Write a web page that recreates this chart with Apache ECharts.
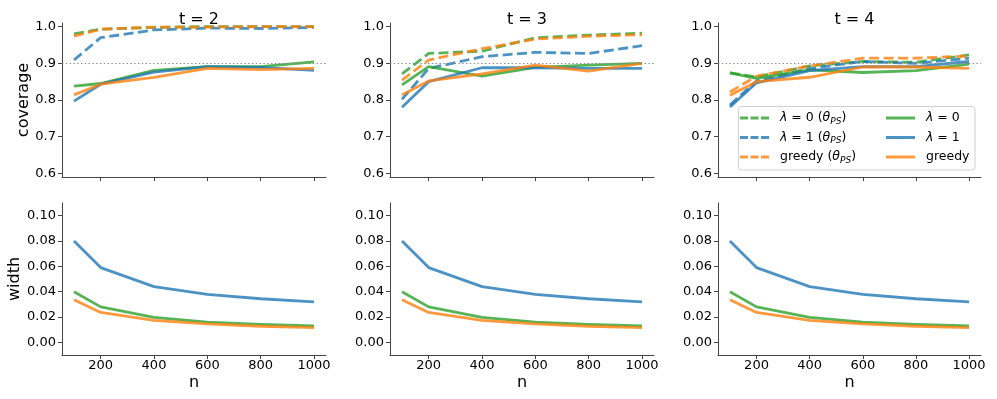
<!DOCTYPE html>
<html>
<head>
<meta charset="utf-8">
<script src="https://cdn.jsdelivr.net/npm/echarts@6/dist/echarts.min.js"></script>
<style>html,body{margin:0;padding:0;background:#fff}#c{width:997px;height:399px}</style>
</head>
<body>
<div id="c"></div>
<script>
// ---- data ----
const nValues = [100, 200, 400, 600, 800, 1000];
const panelTitles = ['t = 2', 't = 3', 't = 4'];
const coverageTicks = [0.6, 0.7, 0.8, 0.9, 1.0];
const widthTicks = [0.00, 0.02, 0.04, 0.06, 0.08, 0.10];
const xTicks = [200, 400, 600, 800, 1000];
const nominalCoverage = 0.9;

// t = 2
const cov2Lam0PS   = [0.980, 0.993, 0.998, 1.000, 1.000, 1.000];
const cov2Lam1PS   = [0.909, 0.970, 0.991, 0.996, 0.995, 0.998];
const cov2GreedyPS = [0.974, 0.993, 0.999, 0.999, 1.000, 1.000];
const cov2Lam0     = [0.838, 0.845, 0.881, 0.891, 0.891, 0.904];
const cov2Lam1     = [0.797, 0.843, 0.876, 0.891, 0.889, 0.881];
const cov2Greedy   = [0.814, 0.843, 0.862, 0.886, 0.883, 0.886];
// t = 3
const cov3Lam0PS   = [0.871, 0.927, 0.933, 0.970, 0.977, 0.982];
const cov3Lam1PS   = [0.802, 0.886, 0.918, 0.930, 0.927, 0.948];
const cov3GreedyPS = [0.854, 0.909, 0.940, 0.966, 0.974, 0.978];
const cov3Lam0     = [0.841, 0.891, 0.865, 0.889, 0.895, 0.900];
const cov3Lam1     = [0.780, 0.850, 0.888, 0.888, 0.886, 0.886];
const cov3Greedy   = [0.814, 0.852, 0.871, 0.895, 0.879, 0.900];
// t = 4
const cov4Lam0PS   = [0.874, 0.863, 0.893, 0.905, 0.903, 0.923];
const cov4Lam1PS   = [0.786, 0.852, 0.886, 0.905, 0.900, 0.914];
const cov4GreedyPS = [0.822, 0.865, 0.893, 0.914, 0.914, 0.920];
const cov4Lam0     = [0.874, 0.859, 0.882, 0.875, 0.880, 0.898];
const cov4Lam1     = [0.781, 0.847, 0.880, 0.891, 0.891, 0.905];
const cov4Greedy   = [0.813, 0.850, 0.862, 0.890, 0.890, 0.886];
// interval widths (same for every t)
const widthLam0   = [0.0400, 0.0280, 0.0197, 0.0160, 0.0142, 0.0129];
const widthLam1   = [0.0800, 0.0590, 0.0440, 0.0378, 0.0344, 0.0320];
const widthGreedy = [0.0336, 0.0236, 0.0173, 0.0145, 0.0127, 0.0116];

// ---- styling ----
const FONT = 'DejaVu Sans';
const GREEN = 'rgba(44,160,44,0.8)';
const BLUE = 'rgba(31,119,180,0.8)';
const ORANGE = 'rgba(255,127,14,0.8)';
const AX = '#444';
const LW = 2.8;
const DASH = [10, 4.5];

const coverageSets = [
  [cov2Lam0PS, cov2Lam1PS, cov2GreedyPS, cov2Lam0, cov2Lam1, cov2Greedy],
  [cov3Lam0PS, cov3Lam1PS, cov3GreedyPS, cov3Lam0, cov3Lam1, cov3Greedy],
  [cov4Lam0PS, cov4Lam1PS, cov4GreedyPS, cov4Lam0, cov4Lam1, cov4Greedy]
];
const widthSet = [widthLam0, widthLam1, widthGreedy];
const topNames = ['l0ps', 'l1ps', 'gps', 'l0', 'l1', 'g'];
const topColors = [GREEN, BLUE, ORANGE, GREEN, BLUE, ORANGE];
const bottomNames = ['l0', 'l1', 'g'];
const bottomColors = [GREEN, BLUE, ORANGE];

const lefts = [62, 390, 718];
const widths = [264, 264, 263];

const grids = [], xAxes = [], yAxes = [], series = [], titles = [];
lefts.forEach((l, p) => {
  grids.push({left: l, top: 23, width: widths[p], height: 154});
  titles.push({text: panelTitles[p], left: l + widths[p] / 2, top: 7, textAlign: 'center',
    textStyle: {fontFamily: FONT, fontSize: 16, fontWeight: 'normal', color: '#000'}});
});
lefts.forEach((l, p) => grids.push({left: l, top: 203, width: widths[p], height: 152}));

function xAxis(gi, labels) {
  return {
    type: 'value', gridIndex: gi, min: 55, max: 1045,
    splitLine: {show: false},
    axisLine: {show: true, onZero: false, lineStyle: {color: AX, width: 1}},
    axisTick: {show: true, length: 4, lineStyle: {color: AX}, customValues: xTicks},
    axisLabel: {show: labels, customValues: xTicks, margin: 4, color: '#000', fontFamily: FONT, fontSize: 13,
      formatter: v => String(Math.round(v))},
    name: labels ? 'n' : '', nameLocation: 'middle', nameGap: 20,
    nameTextStyle: {fontFamily: FONT, fontSize: 16, color: '#000'}
  };
}
function yAxis(gi, min, max, ticks, digits, name) {
  return {
    type: 'value', gridIndex: gi, min: min, max: max,
    splitLine: {show: false},
    axisLine: {show: true, onZero: false, lineStyle: {color: AX, width: 1}},
    axisTick: {show: true, length: 4, lineStyle: {color: AX}, customValues: ticks},
    axisLabel: {customValues: ticks, margin: 6, color: '#000', fontFamily: FONT, fontSize: 13,
      formatter: v => Number(v).toFixed(digits)},
    name: name, nameLocation: 'middle', nameGap: 28,
    nameTextStyle: {fontFamily: FONT, fontSize: 16, color: '#000'}
  };
}

for (let p = 0; p < 3; p++) {
  xAxes.push(xAxis(p, false));
  yAxes.push(yAxis(p, 0.59, 1.01, coverageTicks, 1, p === 0 ? 'coverage' : ''));
}
for (let p = 0; p < 3; p++) {
  xAxes.push(xAxis(3 + p, true));
  yAxes.push(yAxis(3 + p, -0.01, 0.11, widthTicks, 2, p === 0 ? 'width' : ''));
}

for (let p = 0; p < 3; p++) {
  coverageSets[p].forEach((arr, k) => {
    const s = {
      type: 'line', name: topNames[k], xAxisIndex: p, yAxisIndex: p,
      data: nValues.map((n, i) => [n, arr[i]]),
      symbol: 'none', color: topColors[k],
      lineStyle: {width: LW, color: topColors[k], type: k < 3 ? DASH : 'solid', cap: 'butt', join: 'round'},
      z: 2 + k * 0.01, silent: true
    };
    if (k === 0) {
      s.markLine = {silent: true, symbol: 'none', label: {show: false},
        lineStyle: {color: '#888', width: 1.2, type: [1.4, 2.4]},
        data: [{yAxis: nominalCoverage}], animation: false};
    }
    series.push(s);
  });
  widthSet.forEach((arr, k) => {
    series.push({
      type: 'line', name: bottomNames[k], xAxisIndex: 3 + p, yAxisIndex: 3 + p,
      data: nValues.map((n, i) => [n, arr[i]]),
      symbol: 'none', color: bottomColors[k],
      lineStyle: {width: LW, color: bottomColors[k], type: 'solid', join: 'round'},
      silent: true
    });
  });
}

const legendText = {
  l0ps: '{i|λ} = 0 ({i|θ}{s|PS})',
  l1ps: '{i|λ} = 1 ({i|θ}{s|PS})',
  gps: 'greedy ({i|θ}{s|PS})',
  l0: '{i|λ} = 0',
  l1: '{i|λ} = 1',
  g: 'greedy'
};
const dashIcon = 'path://M0,0h8v3h-8zM10.5,0h8v3h-8zM21,0h8v3h-8z';
const legendTextStyle = {
  fontFamily: FONT, fontSize: 12.5, color: '#000', lineHeight: 16, padding: [0, 0, 0, 6],
  rich: {
    i: {fontFamily: FONT, fontStyle: 'italic', fontSize: 12.5, lineHeight: 16, color: '#000'},
    s: {fontFamily: FONT, fontStyle: 'italic', fontSize: 9, lineHeight: 16, verticalAlign: 'bottom', color: '#000'}
  }
};
function legend(left, names, icon) {
  return {
    orient: 'vertical', left: left, top: 110, padding: 0, itemGap: 3.5,
    itemWidth: 29, itemHeight: 3, selectedMode: false,
    data: names.map(n => ({name: n, icon: icon})),
    formatter: n => legendText[n],
    textStyle: legendTextStyle, z: 10
  };
}

const option = {
  animation: false,
  backgroundColor: '#fff',
  title: titles,
  grid: grids,
  xAxis: xAxes,
  yAxis: yAxes,
  legend: [legend(740, ['l0ps', 'l1ps', 'gps'], dashIcon), legend(886, ['l0', 'l1', 'g'], 'rect')],
  graphic: [{
    type: 'rect', z: 8, silent: true,
    shape: {x: 738.5, y: 106.5, width: 236.5, height: 63.5, r: 3},
    style: {fill: 'rgba(255,255,255,0.8)', stroke: '#d0d0d0', lineWidth: 1}
  }],
  series: series
};
const chart = echarts.init(document.getElementById('c'), null, {renderer: 'canvas'});
chart.setOption(option);
</script>
</body>
</html>
